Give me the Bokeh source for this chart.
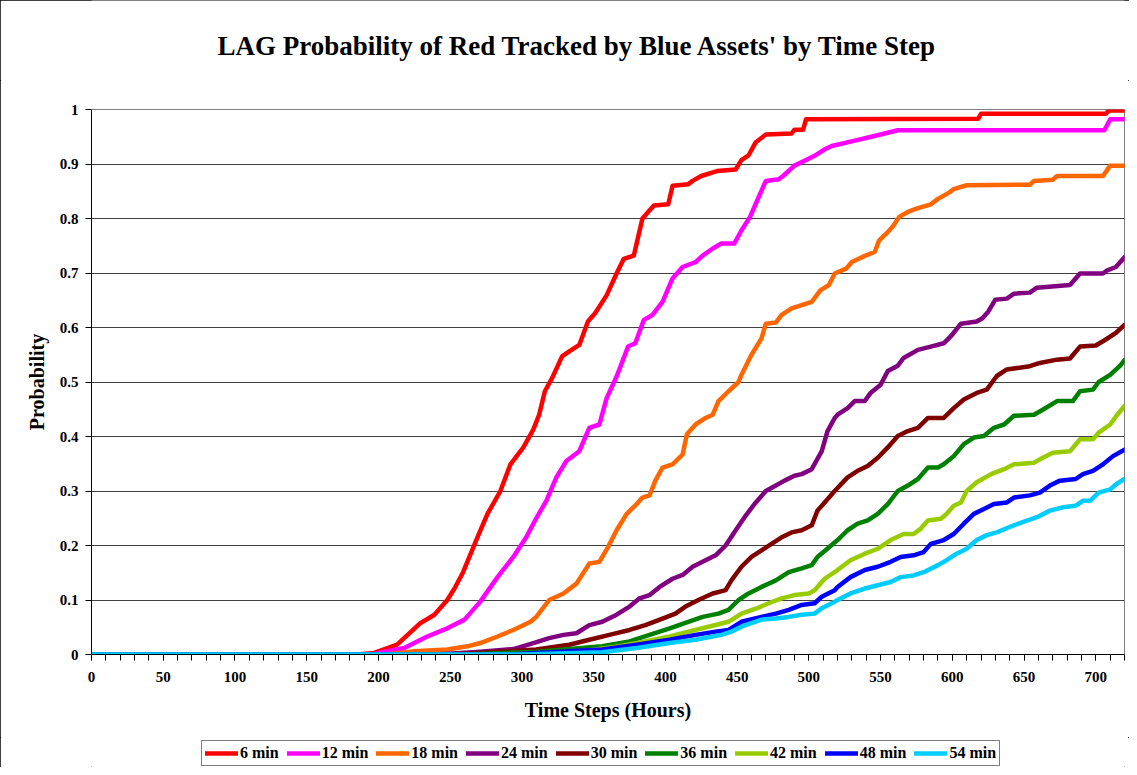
from bokeh.plotting import figure
from bokeh.layouts import column
from bokeh.models import (Range1d, SingleIntervalTicker, FixedTicker, CustomJSTickFormatter,
                          Legend, LegendItem, Label)
from bokeh.embed import file_html
from bokeh.resources import INLINE

# ---------------- data (time step in hours, probability) ----------------
series_names = ["6 min", "12 min", "18 min", "24 min", "30 min", "36 min", "42 min", "48 min", "54 min"]
series_colors = ["#FF0000", "#FF00FF", "#FF6600", "#800080", "#800000", "#008000", "#99CC00", "#0000FF", "#00CCFF"]

pts_6 = [(0, 0), (185, 0), (197, 0.003), (213, 0.018), (229, 0.057), (239, 0.073), (248, 0.1), (253, 0.121),
         (259, 0.151), (269, 0.215), (276, 0.258), (285, 0.3), (292, 0.349), (301, 0.38), (308, 0.413),
         (312, 0.44), (316, 0.483), (321, 0.507), (328, 0.547), (333, 0.556), (340, 0.568), (346, 0.611),
         (351, 0.626), (359, 0.659), (366, 0.699), (371, 0.726), (378, 0.732), (384, 0.80), (392, 0.824),
         (402, 0.826), (405, 0.86), (416, 0.863), (419, 0.869), (425, 0.878), (436, 0.887), (449, 0.89),
         (453, 0.907), (458, 0.916), (463, 0.94), (470, 0.954), (488, 0.956), (490, 0.963), (496, 0.963),
         (498, 0.982), (618, 0.983), (620, 0.992), (707, 0.992), (709, 0.998), (720, 0.998)]

pts_12 = [(0, 0), (195, 0), (218, 0.012), (234, 0.033), (248, 0.048), (260, 0.064), (271, 0.097), (283, 0.142),
          (294, 0.179), (303, 0.215), (310, 0.25), (317, 0.282), (324, 0.325), (331, 0.355), (340, 0.373),
          (347, 0.416), (354, 0.422), (359, 0.47), (366, 0.51), (374, 0.565), (379, 0.571), (385, 0.614),
          (391, 0.623), (398, 0.647), (405, 0.69), (412, 0.711), (421, 0.72), (426, 0.732), (433, 0.745),
          (439, 0.754), (448, 0.754), (453, 0.778), (459, 0.803), (464, 0.833), (470, 0.869), (479, 0.872),
          (482, 0.878), (490, 0.897), (497, 0.906), (504, 0.915), (511, 0.927), (516, 0.933), (532, 0.943),
          (545, 0.951), (562, 0.962), (706, 0.962), (710, 0.982), (720, 0.982)]

pts_18 = [(0, 0), (205, 0), (225, 0.006), (248, 0.009), (262, 0.015), (271, 0.021), (283, 0.033), (294, 0.045),
          (306, 0.06), (310, 0.069), (319, 0.1), (329, 0.112), (338, 0.13), (347, 0.167), (354, 0.17),
          (360, 0.197), (366, 0.228), (373, 0.258), (380, 0.276), (384, 0.288), (389, 0.292), (393, 0.319),
          (398, 0.343), (405, 0.349), (412, 0.367), (415, 0.404), (421, 0.422), (428, 0.434), (433, 0.44),
          (437, 0.465), (444, 0.483), (451, 0.50), (453, 0.513), (460, 0.55), (467, 0.58), (470, 0.607),
          (477, 0.609), (481, 0.623), (488, 0.635), (495, 0.641), (502, 0.647), (508, 0.668), (514, 0.678),
          (518, 0.699), (526, 0.708), (530, 0.72), (537, 0.729), (546, 0.739), (549, 0.76), (555, 0.775),
          (559, 0.787), (563, 0.803), (569, 0.812), (575, 0.818), (585, 0.826), (590, 0.836), (598, 0.848),
          (601, 0.854), (610, 0.861), (654, 0.862), (657, 0.869), (670, 0.871), (673, 0.878), (705, 0.878),
          (710, 0.897), (720, 0.897)]

pts_24 = [(0, 0), (240, 0), (271, 0.005), (294, 0.01), (308, 0.021), (319, 0.03), (329, 0.036), (338, 0.039),
          (347, 0.054), (356, 0.06), (366, 0.073), (375, 0.088), (382, 0.103), (389, 0.109), (396, 0.124),
          (405, 0.139), (412, 0.146), (419, 0.161), (428, 0.173), (435, 0.182), (442, 0.2), (449, 0.228),
          (456, 0.255), (463, 0.279), (470, 0.3), (477, 0.31), (483, 0.319), (490, 0.328), (495, 0.331),
          (502, 0.34), (509, 0.373), (513, 0.41), (518, 0.434), (520, 0.44), (527, 0.452), (532, 0.465),
          (539, 0.465), (543, 0.48), (550, 0.495), (555, 0.52), (562, 0.53), (566, 0.544), (576, 0.559),
          (585, 0.565), (594, 0.571), (599, 0.584), (606, 0.607), (617, 0.611), (621, 0.617), (625, 0.629),
          (630, 0.651), (638, 0.653), (643, 0.662), (654, 0.664), (659, 0.673), (682, 0.678), (689, 0.699),
          (705, 0.699), (708, 0.705), (714, 0.711), (720, 0.729)]

pts_30 = [(0, 0), (250, 0), (310, 0.009), (333, 0.018), (347, 0.027), (361, 0.036), (375, 0.045), (386, 0.054),
          (398, 0.066), (407, 0.075), (414, 0.088), (423, 0.1), (433, 0.112), (442, 0.118), (446, 0.136),
          (453, 0.161), (460, 0.179), (467, 0.191), (474, 0.203), (481, 0.215), (488, 0.224), (495, 0.228),
          (502, 0.237), (506, 0.264), (513, 0.285), (518, 0.3), (527, 0.325), (534, 0.337), (541, 0.346),
          (548, 0.361), (555, 0.38), (562, 0.401), (569, 0.41), (576, 0.416), (583, 0.434), (594, 0.434),
          (601, 0.452), (608, 0.468), (617, 0.48), (624, 0.486), (631, 0.511), (638, 0.523), (654, 0.529),
          (661, 0.535), (673, 0.541), (682, 0.543), (689, 0.565), (700, 0.567), (707, 0.578), (714, 0.59),
          (720, 0.605)]

pts_36 = [(0, 0), (260, 0), (310, 0.005), (356, 0.015), (375, 0.024), (389, 0.036), (403, 0.048), (416, 0.06),
          (426, 0.069), (437, 0.075), (444, 0.082), (451, 0.1), (458, 0.112), (467, 0.124), (477, 0.136),
          (486, 0.151), (495, 0.158), (502, 0.164), (506, 0.179), (511, 0.19), (520, 0.21), (527, 0.228),
          (534, 0.24), (541, 0.246), (548, 0.258), (555, 0.276), (562, 0.3), (569, 0.31), (576, 0.322),
          (583, 0.343), (590, 0.343), (594, 0.349), (601, 0.364), (608, 0.386), (615, 0.398), (622, 0.401),
          (629, 0.416), (636, 0.422), (643, 0.438), (657, 0.44), (663, 0.449), (673, 0.465), (684, 0.465),
          (689, 0.483), (698, 0.486), (702, 0.5), (710, 0.513), (717, 0.53), (720, 0.54)]

pts_42 = [(0, 0), (280, 0), (333, 0.003), (368, 0.015), (386, 0.024), (403, 0.033), (416, 0.042), (430, 0.051),
          (444, 0.06), (453, 0.075), (463, 0.084), (472, 0.094), (481, 0.103), (490, 0.109), (500, 0.112),
          (504, 0.118), (509, 0.133), (511, 0.139), (520, 0.155), (529, 0.173), (539, 0.185), (548, 0.194),
          (557, 0.21), (566, 0.221), (573, 0.221), (578, 0.231), (583, 0.246), (592, 0.249), (596, 0.258),
          (601, 0.273), (606, 0.279), (610, 0.3), (617, 0.316), (627, 0.331), (636, 0.34), (643, 0.349),
          (657, 0.352), (663, 0.361), (670, 0.37), (682, 0.373), (689, 0.395), (698, 0.395), (702, 0.407),
          (710, 0.422), (715, 0.44), (720, 0.456)]

pts_48 = [(0, 0), (290, 0), (356, 0.009), (380, 0.018), (403, 0.027), (421, 0.036), (435, 0.042), (444, 0.045),
          (453, 0.06), (467, 0.069), (477, 0.075), (486, 0.082), (495, 0.091), (504, 0.094), (509, 0.106),
          (518, 0.118), (520, 0.124), (529, 0.142), (539, 0.155), (548, 0.161), (557, 0.17), (564, 0.179),
          (573, 0.182), (580, 0.188), (585, 0.203), (594, 0.21), (601, 0.221), (608, 0.24), (615, 0.258),
          (622, 0.267), (629, 0.276), (638, 0.279), (643, 0.288), (654, 0.292), (661, 0.297), (668, 0.31),
          (675, 0.319), (686, 0.322), (691, 0.331), (698, 0.337), (705, 0.349), (712, 0.364), (720, 0.376)]

pts_54 = [(0, 0), (300, 0), (356, 0.004), (380, 0.012), (403, 0.021), (421, 0.027), (439, 0.036), (446, 0.042),
          (453, 0.051), (467, 0.064), (477, 0.066), (486, 0.069), (495, 0.073), (504, 0.075), (509, 0.085),
          (518, 0.097), (520, 0.1), (529, 0.112), (539, 0.121), (548, 0.127), (557, 0.133), (564, 0.142),
          (573, 0.145), (580, 0.151), (590, 0.164), (596, 0.173), (603, 0.185), (610, 0.194), (617, 0.21),
          (624, 0.219), (631, 0.224), (640, 0.234), (649, 0.243), (659, 0.252), (668, 0.264), (677, 0.27),
          (686, 0.273), (691, 0.282), (696, 0.282), (702, 0.297), (710, 0.303), (714, 0.312), (720, 0.322)]

all_series = [pts_6, pts_12, pts_18, pts_24, pts_30, pts_36, pts_42, pts_48, pts_54]

title_text = "LAG Probability of Red Tracked by Blue Assets' by Time Step"
x_label = "Time Steps (Hours)"
y_label = "Probability"
y_ticks = [0, 0.1, 0.2, 0.3, 0.4, 0.5, 0.6, 0.7, 0.8, 0.9, 1.0]

# ---------------- sizes ----------------
FONT = "Liberation Serif"
W = 1129
H_TITLE = 80
H_LEG = 30
H_MAIN = 767 - H_TITLE - H_LEG


def strip(height, y_lo, y_hi):
    f = figure(width=W, height=height, x_range=Range1d(0, 720), y_range=Range1d(y_lo, y_hi),
               output_backend="svg", toolbar_location=None,
               min_border_left=0, min_border_right=0, min_border_top=0, min_border_bottom=0,
               x_axis_type=None, y_axis_type=None)
    f.grid.visible = False
    f.outline_line_color = None
    f.background_fill_color = "#FFFFFF"
    f.border_fill_color = "#FFFFFF"
    return f


# ---------------- title strip ----------------
tf = strip(H_TITLE, 0, 1)
tf.add_layout(Label(x=126, y=35, x_units="screen", y_units="screen", text=title_text,
                    text_font=FONT, text_font_style="bold", text_font_size="27px",
                    text_color="#000000", text_baseline="middle", text_align="left"))

# ---------------- main figure ----------------
p = figure(width=W, height=H_MAIN, x_range=Range1d(0, 720), y_range=Range1d(0, 1),
           output_backend="svg", toolbar_location=None,
           min_border_left=91, min_border_right=5, min_border_top=109 - H_TITLE, min_border_bottom=83)

p.background_fill_color = "#FFFFFF"
p.border_fill_color = "#FFFFFF"
p.outline_line_color = "#808080"
p.outline_line_width = 1

p.xaxis.ticker = SingleIntervalTicker(interval=50, num_minor_ticks=5)
p.xaxis.axis_label = x_label
p.yaxis.axis_label = y_label
p.yaxis.ticker = FixedTicker(ticks=y_ticks)
p.yaxis.formatter = CustomJSTickFormatter(code="var s = tick.toFixed(1); return s.replace(/\\.0$/, '');")

for ax in (p.xaxis[0], p.yaxis[0]):
    ax.axis_line_color = "#000000"
    ax.axis_line_width = 1
    ax.major_tick_line_color = "#000000"
    ax.minor_tick_line_color = "#000000"
    ax.major_tick_in = 0
    ax.major_tick_out = 6
    ax.minor_tick_in = 0
    ax.minor_tick_out = 6
    ax.major_label_text_font = FONT
    ax.major_label_text_font_style = "bold"
    ax.major_label_text_font_size = "15px"
    ax.major_label_text_color = "#000000"
    ax.axis_label_text_font = FONT
    ax.axis_label_text_font_style = "bold"
    ax.axis_label_text_font_size = "20px"
    ax.axis_label_text_color = "#000000"

p.yaxis.minor_tick_line_color = None
p.xaxis.major_label_standoff = 11
p.xaxis.axis_label_standoff = 14
p.yaxis.major_label_standoff = 7
p.yaxis.axis_label_standoff = 9

p.xgrid.grid_line_color = None
p.ygrid.ticker = FixedTicker(ticks=y_ticks)
p.ygrid.grid_line_color = "#404040"
p.ygrid.grid_line_width = 1

for color, pts in zip(series_colors, all_series):
    xs = [a for a, b in pts]
    ys = [b for a, b in pts]
    p.line(xs, ys, line_color=color, line_width=4.5, line_join="round", line_cap="round")

# ---------------- legend strip (same series, drawn outside its visible range) ----------------
lg = strip(H_LEG, 2, 3)
items = []
for name, color, pts in zip(series_names, series_colors, all_series):
    xs = [a for a, b in pts]
    ys = [b for a, b in pts]
    r = lg.line(xs, ys, line_color=color, line_width=4.5, line_cap="round")
    items.append(LegendItem(label=name, renderers=[r]))

legend = Legend(items=items, orientation="horizontal", location=(110, 1))
legend.label_text_font = FONT
legend.label_text_font_style = "bold"
legend.label_text_font_size = "16px"
legend.label_text_color = "#000000"
legend.glyph_width = 33
legend.glyph_height = 14
legend.label_standoff = 2
legend.spacing = 8
legend.padding = 3
legend.margin = 0
legend.border_line_color = "#000000"
legend.border_line_width = 1
legend.background_fill_color = "#FFFFFF"
legend.background_fill_alpha = 1
lg.add_layout(legend, "center")

layout = column(tf, p, lg, spacing=0)
layout.styles = {"outline": "1px solid #000000", "outline-offset": "-1px"}

open("out.html", "w").write(file_html(layout, INLINE))
